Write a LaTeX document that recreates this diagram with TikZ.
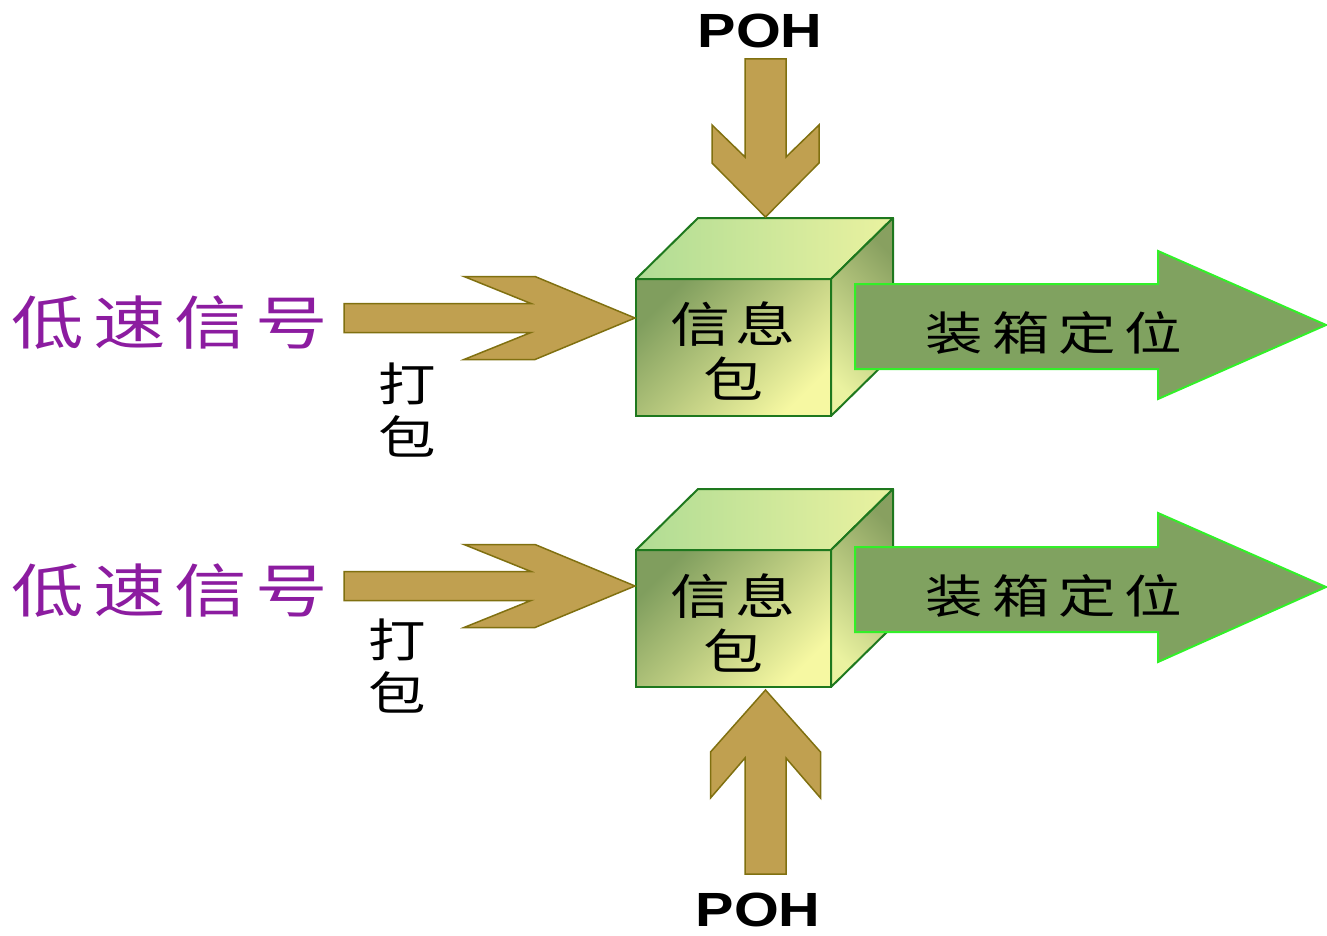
\documentclass[tikz,border=0pt]{standalone}
\usepackage{fontspec}
\newfontfamily\cjk{Noto Sans CJK SC}
\newfontfamily\pohfont{Liberation Sans}
\newcommand{\widetext}[2][1.25]{\scalebox{#1}[1]{#2}}

\definecolor{tanfill}{RGB}{192,160,80}
\definecolor{tanline}{RGB}{128,112,16}
\definecolor{boxline}{RGB}{30,120,30}
\definecolor{fdark}{RGB}{128,158,94}
\definecolor{flight}{RGB}{246,248,162}
\definecolor{tgreen}{RGB}{176,220,148}
\definecolor{tyellow}{RGB}{234,242,160}
\definecolor{sdark}{RGB}{136,160,96}
\definecolor{slight}{RGB}{234,242,160}
\definecolor{arrowgreen}{RGB}{128,162,96}
\definecolor{arrowedge}{RGB}{50,240,40}
\definecolor{sigpurple}{RGB}{140,28,160}

\tikzset{
  frontface/.style={draw=boxline, line width=2pt, inner sep=0pt, outer sep=0pt,
    minimum width=195pt, minimum height=137pt,
    top color=fdark, bottom color=flight, shading angle=45},
  topface/.style={draw=boxline, line width=2pt, line join=round,
    left color=tgreen, right color=tyellow},
  sideface/.style={draw=boxline, line width=2pt, line join=round,
    top color=sdark, bottom color=slight, shading angle=-45},
  tanarrow/.style={fill=tanfill, draw=tanline, line width=1.5pt, line join=miter},
  bigarrow/.style={fill=arrowgreen, draw=arrowedge, line width=2pt, line join=miter},
  sig/.style={text=sigpurple, inner sep=0pt, font=\cjk\fontsize{58pt}{60pt}\selectfont},
  pkt/.style={inner sep=0pt, align=center, font=\cjk\fontsize{48pt}{55pt}\selectfont},
  pack/.style={inner sep=0pt, align=center, font=\cjk\fontsize{46pt}{53pt}\selectfont},
  boxing/.style={inner sep=0pt, font=\cjk\fontsize{46pt}{50pt}\selectfont},
  poh/.style={inner sep=0pt, font=\pohfont\bfseries\fontsize{48pt}{50pt}\selectfont},
}

\begin{document}
\begin{tikzpicture}[x=1pt,y=-1pt]
\useasboundingbox (0,0) rectangle (1327,936);

% ---------- upper packet ----------
\node[frontface] (box1) at (733.5,347.5) {};
\draw[topface] (box1.north west) -- ++(62,-61) -- ([shift={(62,-61)}]box1.north east)
  -- (box1.north east) -- cycle;
\draw[sideface] (box1.north east) -- ++(62,-61) -- ([shift={(62,-61)}]box1.south east)
  -- (box1.south east) -- cycle;
\node[pkt] (pkt1) at (733,351) {\widetext{信\hspace{4pt}息}\\\widetext{包}};

% output arrow
\draw[bigarrow] (855,284) -- (1158,284) -- (1158,251) -- (1326,325) -- (1158,399)
  -- (1158,369) -- (855,369) -- cycle;
\node[boxing] (out1) at (1054,333) {\widetext{装\hspace{7pt}箱\hspace{7pt}定\hspace{7pt}位}};

% input arrow from the left
\coordinate (in1) at (635,318);
\draw[tanarrow, shift={(in1)}] (0,0) -- (-100,-41.5) -- (-171,-41.5) -- (-104,-14.5)
  -- (-291,-14.5) -- (-291,14.5) -- (-104,14.5) -- (-171,41.5) -- (-100,41.5) -- cycle;
\node[sig] (sig1) at (170,323) {\widetext{低\hspace{7pt}速\hspace{7pt}信\hspace{7pt}号}};
\node[pack] (pack1) at (407,410) {\widetext{打}\\\widetext{包}};

% overhead arrow from above
\coordinate (poh1tip) at (765.5,217);
\draw[tanarrow, shift={(poh1tip)}] (0,0) -- (-53.5,-54) -- (-53.5,-92) -- (-20.5,-60)
  -- (-20.5,-158) -- (20.5,-158) -- (20.5,-60) -- (53.5,-92) -- (53.5,-54) -- cycle;
\node[poh] (poh1) at (760,31) {\widetext[1.2]{POH}};

% ---------- lower packet ----------
\node[frontface] (box2) at (733.5,618.5) {};
\draw[topface] (box2.north west) -- ++(62,-61) -- ([shift={(62,-61)}]box2.north east)
  -- (box2.north east) -- cycle;
\draw[sideface] (box2.north east) -- ++(62,-61) -- ([shift={(62,-61)}]box2.south east)
  -- (box2.south east) -- cycle;
\node[pkt] (pkt2) at (733,623) {\widetext{信\hspace{4pt}息}\\\widetext{包}};

\draw[bigarrow] (855,547) -- (1158,547) -- (1158,513) -- (1326,587) -- (1158,662)
  -- (1158,632) -- (855,632) -- cycle;
\node[boxing] (out2) at (1054,596) {\widetext{装\hspace{7pt}箱\hspace{7pt}定\hspace{7pt}位}};

\coordinate (in2) at (635,586);
\draw[tanarrow, shift={(in2)}] (0,0) -- (-100,-41.5) -- (-171,-41.5) -- (-104,-14.5)
  -- (-291,-14.5) -- (-291,14.5) -- (-104,14.5) -- (-171,41.5) -- (-100,41.5) -- cycle;
\node[sig] (sig2) at (170,591) {\widetext{低\hspace{7pt}速\hspace{7pt}信\hspace{7pt}号}};
\node[pack] (pack2) at (397,666) {\widetext{打}\\\widetext{包}};

% overhead arrow from below
\coordinate (poh2tip) at (765.5,690);
\draw[tanarrow, shift={(poh2tip)}] (0,0) -- (-55,62) -- (-55,108) -- (-20.5,68)
  -- (-20.5,184) -- (20.5,184) -- (20.5,68) -- (55,108) -- (55,62) -- cycle;
\node[poh] (poh2) at (758,910) {\widetext[1.2]{POH}};
\end{tikzpicture}
\end{document}
